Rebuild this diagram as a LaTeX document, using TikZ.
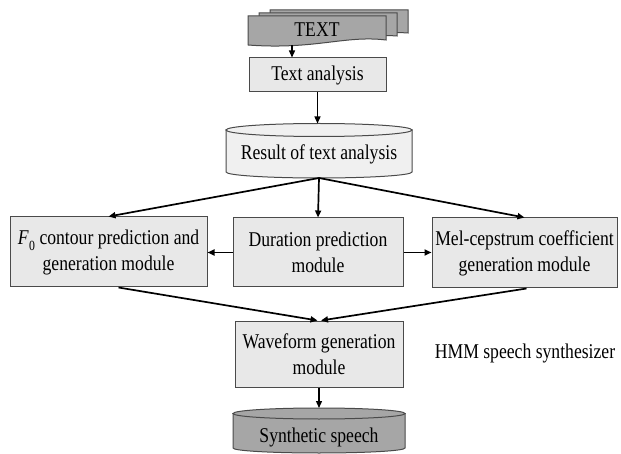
\documentclass[tikz,border=0pt]{standalone}
\usepackage{fontspec}
\setmainfont{Liberation Serif}[FakeStretch=0.84]
\usetikzlibrary{arrows.meta,calc}
\definecolor{boxfill}{HTML}{E8E8E8}
\definecolor{cylfill}{HTML}{F0F0F0}
\definecolor{darkfill}{HTML}{A6A6A6}
\definecolor{edge}{HTML}{4A4A4A}
\tikzset{
  lbl/.style={font=\fontsize{21}{26}\selectfont, align=center, inner sep=0pt},
  procbox/.style={lbl, draw=edge, line width=1pt, fill=boxfill},
  conn/.style={line width=1.7pt, -{Triangle[length=7pt,width=6pt]}},
  cylline/.style={draw=edge, line width=1pt},
}
\begin{document}
\begin{tikzpicture}[x=1pt,y=-1pt]
\useasboundingbox (0,0) rectangle (621,454);
\begin{scope}
\clip (0,0) rectangle (621,454);
% document stack
\filldraw[fill=darkfill, draw=edge, line width=1pt] (270,10) -- (408,10) -- (408,33) .. controls (380,31) and (360,36) .. (340,35) -- (270,34) -- cycle;
\filldraw[fill=darkfill, draw=edge, line width=1pt] (259,13) -- (397,13) -- (397,36) .. controls (370,34) and (350,39) .. (330,38) -- (259,37) -- cycle;
\filldraw[fill=darkfill, draw=edge, line width=1pt] (248,16) -- (386,16) -- (386,40) .. controls (345,35) and (315,50) .. (248,45) -- cycle;
\node[lbl] (txt) at (317,30) {TEXT};
\coordinate (txtb) at (292,45);

% text analysis
\node[procbox, minimum width=137, minimum height=34] (ta) at (317.5,75) {Text analysis};

% result cylinder
\filldraw[fill=cylfill, cylline] (226,130) -- (226,172) .. controls (226,175.3) and (267.6,178) .. (319,178) .. controls (370.4,178) and (412,175.3) .. (412,172) -- (412,130) -- cycle;
\filldraw[fill=cylfill, cylline] (319,130) ellipse [x radius=93, y radius=6.5];
\node[lbl] (res) at (319,154) {Result of text analysis};
\coordinate (rest) at (319,123.5);
\coordinate (resb) at (319,178);

% modules
\node[procbox, minimum width=197, minimum height=70] (f0) at (108.5,252)
  {\textit{F}\kern0.5pt\raisebox{-0.3em}{\fontsize{14}{14}\selectfont 0} contour prediction and\\generation module};
\node[procbox, minimum width=170, minimum height=69] (dur) at (318,252.5)
  {Duration prediction\\module};
\node[procbox, minimum width=185, minimum height=70] (mel) at (524.5,253)
  {Mel-cepstrum coefficient\\generation module};
\node[procbox, minimum width=168, minimum height=66] (wav) at (319,354)
  {Waveform generation\\module};
\node[lbl] (hmm) at (525,353) {HMM speech synthesizer};

% synthetic speech cylinder
\filldraw[fill=darkfill, cylline] (233,413.5) -- (233,448) .. controls (233,450.8) and (271.5,453) .. (319,453) .. controls (366.5,453) and (405,450.8) .. (405,448) -- (405,413.5) -- cycle;
\filldraw[fill=darkfill, cylline] (319,413.5) ellipse [x radius=86, y radius=5.5];
\node[lbl] (syn) at (319,437) {Synthetic speech};
\coordinate (synt) at (319,408);

% connectors
\draw[conn, line width=1.3pt] (txtb) -- (txtb |- ta.north);
\draw[conn, line width=1.3pt] (ta.south) -- (ta.south |- rest);
\draw[conn] (resb) -- (f0.north);
\draw[conn] (resb) -- (dur.north);
\draw[conn] (resb) -- (mel.north);
\draw[conn] (dur.west) -- (dur.west -| f0.east);
\draw[conn] (dur.east) -- (dur.east -| mel.west);
\draw[conn] ([xshift=10pt]f0.south) -- ([xshift=-1.5pt]wav.north);
\draw[conn] ([xshift=2pt]mel.south) -- ([xshift=2pt]wav.north);
\draw[conn, line width=1.3pt] (wav.south) -- (synt);
\end{scope}
\end{tikzpicture}
\end{document}
